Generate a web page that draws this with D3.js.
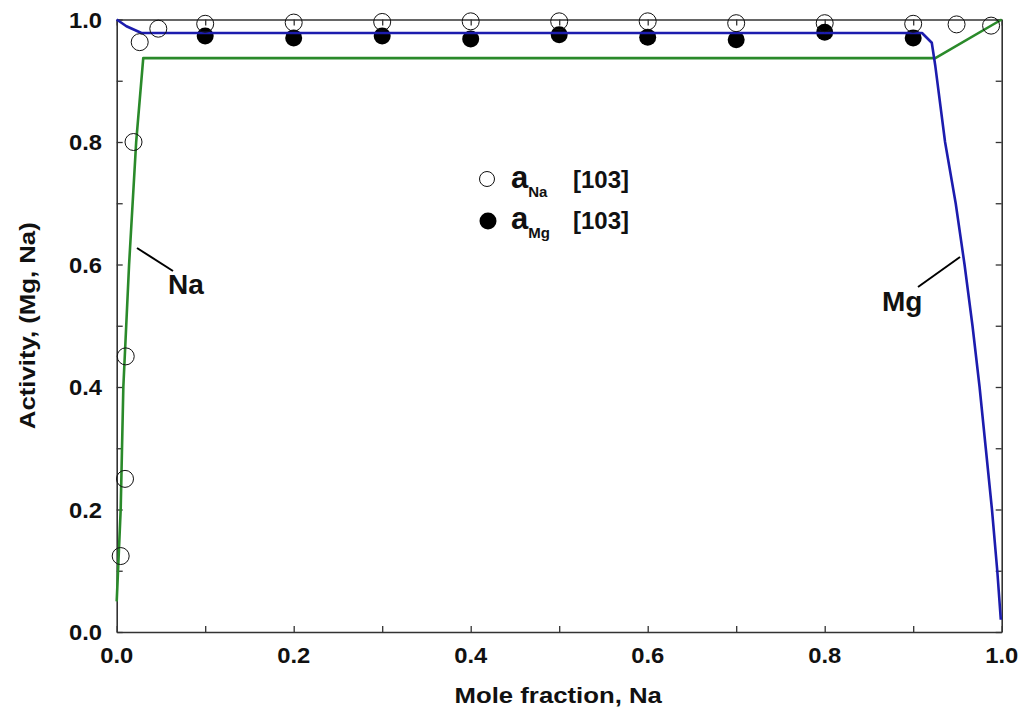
<!DOCTYPE html>
<html>
<head>
<meta charset="utf-8">
<script src="https://cdn.jsdelivr.net/npm/d3@7"></script>
<style>
  html, body { margin: 0; padding: 0; background: #fff; }
  svg { display: block; }
  text { font-family: Arial, "Liberation Sans", sans-serif; font-weight: bold; fill: #111; }
</style>
</head>
<body>
<svg id="chart" width="1024" height="709"></svg>
<script>
// Calculated activity of Mg (blue) across the Na mole fraction range
const mgCurveX = [0, 0.011, 0.028, 0.91, 0.921, 0.925, 0.936, 0.948, 0.958, 0.967, 0.975, 0.982, 0.989, 0.995, 0.999];
const mgCurveY = [1.0, 0.989, 0.978, 0.978, 0.962, 0.924, 0.8, 0.7, 0.6, 0.5, 0.4, 0.3, 0.2, 0.1, 0.02];

// Calculated activity of Na (green)
const naCurveX = [0, 0.0045, 0.0075, 0.014, 0.022, 0.030, 0.925, 1.0];
const naCurveY = [0.05, 0.2, 0.4, 0.6, 0.8, 0.937, 0.937, 1.0];

// Experimental a_Na [103] (open circles)
const naDataX = [0.0045, 0.0094, 0.0102, 0.019, 0.026, 0.047, 0.1, 0.2, 0.3, 0.4, 0.5, 0.6, 0.7, 0.8, 0.9, 0.949, 0.988];
const naDataY = [0.124, 0.25, 0.45, 0.80, 0.963, 0.985, 0.993, 0.995, 0.996, 0.997, 0.997, 0.997, 0.994, 0.994, 0.993, 0.992, 0.990];

// Experimental a_Mg [103] (filled circles)
const mgDataX = [0.1, 0.2, 0.3, 0.4, 0.5, 0.6, 0.7, 0.8, 0.9];
const mgDataY = [0.973, 0.970, 0.973, 0.968, 0.975, 0.971, 0.967, 0.979, 0.970];

const majorTicks = [0, 0.2, 0.4, 0.6, 0.8, 1.0];
const minorTicks = [0.1, 0.3, 0.5, 0.7, 0.9];

const svg = d3.select("#chart");
const plotLeft = 116.7, plotRight = 1001.7, plotTop = 19.5, plotBottom = 632;

const x = d3.scaleLinear().domain([0, 1]).range([plotLeft, plotRight]);
const y = d3.scaleLinear().domain([0, 1]).range([plotBottom, plotTop]);

const frameColor = "#333";
const allTicks = majorTicks.concat(minorTicks);

// Text drawn with a slightly widened face
function wideText(parent, px, py, str, size, sx, anchor, rot) {
  return parent.append("text")
    .attr("transform", `translate(${px},${py})${rot ? ` rotate(${rot})` : ""} scale(${sx},1)`)
    .attr("text-anchor", anchor || "start")
    .attr("font-size", size)
    .text(str);
}

// Inward ticks on all four sides
const axes = [
  d3.axisBottom(x).tickValues(allTicks).tickSizeInner(-6).tickSizeOuter(0).tickFormat(""),
  d3.axisTop(x).tickValues(allTicks).tickSizeInner(-6).tickSizeOuter(0).tickFormat(""),
  d3.axisLeft(y).tickValues(allTicks).tickSizeInner(-6).tickSizeOuter(0).tickFormat(""),
  d3.axisRight(y).tickValues(allTicks).tickSizeInner(-6).tickSizeOuter(0).tickFormat("")
];
const offsets = [[0, plotBottom], [0, plotTop], [plotLeft, 0], [plotRight, 0]];
axes.forEach((ax, i) => {
  const g = svg.append("g").attr("transform", `translate(${offsets[i][0]},${offsets[i][1]})`).call(ax);
  g.selectAll("path").attr("stroke", frameColor).attr("stroke-width", 1.6);
  g.selectAll("line").attr("stroke", frameColor).attr("stroke-width", 1.3);
});

// Tick labels
const fmt = d3.format(".1f");
const xLabels = svg.append("g");
majorTicks.forEach(d => wideText(xLabels, x(d), 663, fmt(d), 22, 1.08, "middle"));
const yLabels = svg.append("g");
majorTicks.forEach(d => wideText(yLabels, 102, y(d) + 8, fmt(d), 22, 1.08, "end"));

// Axis titles
wideText(svg, (plotLeft + plotRight) / 2 - 1, 703, "Mole fraction, Na", 23, 1.12, "middle");
wideText(svg, 35, (plotTop + plotBottom) / 2, "Activity, (Mg, Na)", 23, 1.12, "middle", -90);

// Experimental points
const naPts = naDataX.map((v, i) => [v, naDataY[i]]);
const mgPts = mgDataX.map((v, i) => [v, mgDataY[i]]);

svg.append("g").selectAll("circle").data(mgPts).join("circle")
  .attr("cx", d => x(d[0])).attr("cy", d => y(d[1])).attr("r", 8.5)
  .attr("fill", "#000");

// Model curves
const line = d3.line().x(d => x(d[0])).y(d => y(d[1]));
const mgCurve = mgCurveX.map((v, i) => [v, mgCurveY[i]]);
const naCurve = naCurveX.map((v, i) => [v, naCurveY[i]]);

svg.append("path").datum(naCurve).attr("d", line)
  .attr("fill", "none").attr("stroke", "#2a8a2a").attr("stroke-width", 2.6)
  .attr("stroke-linejoin", "round");
svg.append("path").datum(mgCurve).attr("d", line)
  .attr("fill", "none").attr("stroke", "#1c1cae").attr("stroke-width", 2.6)
  .attr("stroke-linejoin", "round");

svg.append("g").selectAll("circle").data(naPts).join("circle")
  .attr("cx", d => x(d[0])).attr("cy", d => y(d[1])).attr("r", 8.5)
  .attr("fill", "none").attr("stroke", "#111").attr("stroke-width", 1);

// Curve labels with leader lines
svg.append("line").attr("x1", 137).attr("y1", 248).attr("x2", 173).attr("y2", 271)
  .attr("stroke", "#000").attr("stroke-width", 2);
svg.append("text").attr("x", 168).attr("y", 294).attr("font-size", 28).text("Na");

svg.append("line").attr("x1", 918).attr("y1", 287).attr("x2", 960).attr("y2", 257)
  .attr("stroke", "#000").attr("stroke-width", 2);
svg.append("text").attr("x", 882).attr("y", 311).attr("font-size", 28).text("Mg");

// Legend
const legend = svg.append("g");
legend.append("circle").attr("cx", 487).attr("cy", 179).attr("r", 7.5)
  .attr("fill", "none").attr("stroke", "#111").attr("stroke-width", 1);
legend.append("circle").attr("cx", 488).attr("cy", 221).attr("r", 8.5).attr("fill", "#000");

const legendRows = [
  { sub: "Na", base: 188 },
  { sub: "Mg", base: 229 }
];
legendRows.forEach(r => {
  const t = legend.append("text").attr("x", 511).attr("y", r.base).attr("font-size", 31);
  t.append("tspan").text("a");
  t.append("tspan").attr("font-size", 15).attr("dy", 9).text(r.sub);
  legend.append("text").attr("x", 573).attr("y", r.base).attr("font-size", 24).text("[103]");
});
</script>
</body>
</html>
